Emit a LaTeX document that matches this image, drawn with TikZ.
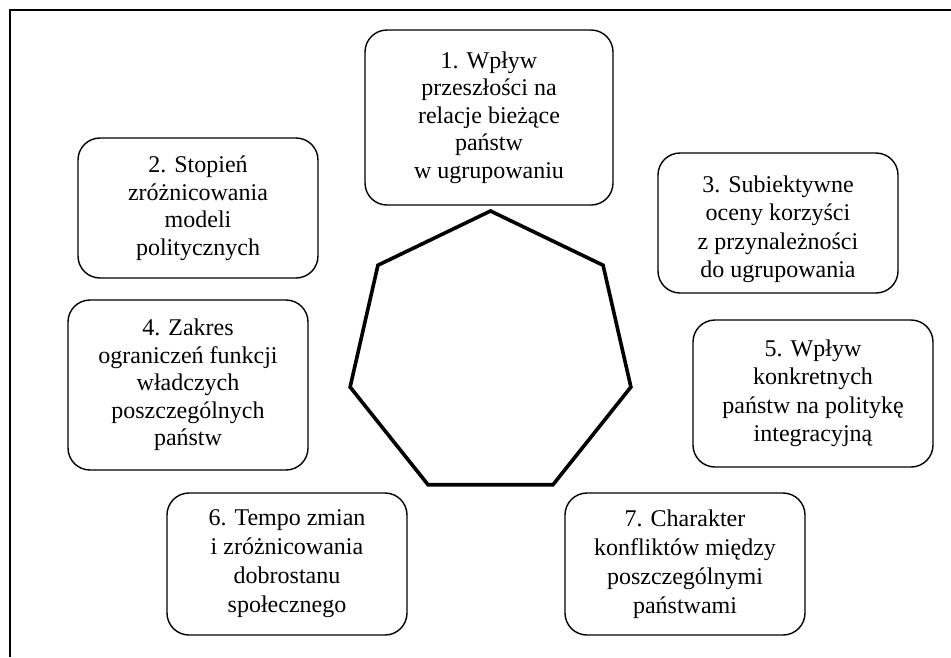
\documentclass[tikz,border=0pt]{standalone}
\usepackage{fontspec}
\setmainfont{Liberation Serif}
\usetikzlibrary{shapes.geometric}

\tikzset{
  factor/.style={draw, line width=1.4pt, rounded corners=22pt, align=center,
    minimum width=240pt, minimum height=140pt, inner sep=4pt,
    font=\fontsize{24}{27.5}\selectfont},
  loose/.style={font=\fontsize{24}{#1}\selectfont},
  hepta/.style={draw, line width=3.6pt, regular polygon, regular polygon sides=7,
    minimum size=288pt, inner sep=0pt}
}

\begin{document}
\begin{tikzpicture}[x=1pt,y=-1pt]
  \useasboundingbox (0,0) rectangle (951,657);
  % ramka (widoczna tylko u gory i z lewej)
  \draw[line width=2pt] (10,657) -- (10,10) -- (951,10);

  \node[hepta] (center) at (490.5,355) {};

  \node[factor, minimum width=248pt, minimum height=175pt] (f1) at (489,117.5)
    {1. Wpływ\\przeszłości na\\relacje bieżące\\państw\\w ugrupowaniu};
  \node[factor] (f2) at (198,208)
    {2. Stopień\\zróżnicowania\\modeli\\politycznych};
  \node[factor, loose=28.5] (f3) at (778,223)
    {\rule{0pt}{29pt}3. Subiektywne\\oceny korzyści\\z przynależności\\do ugrupowania};
  \node[factor, minimum height=170pt] (f4) at (188,385)
    {4. Zakres\\ograniczeń funkcji\\władczych\\poszczególnych\\państw};
  \node[factor, loose=28.5, minimum height=147pt] (f5) at (813,393.5)
    {5. Wpływ\\konkretnych\\państw na politykę\\integracyjną};
  \node[factor, loose=29, minimum height=142pt] (f6) at (287,564)
    {6. Tempo zmian\\i zróżnicowania\\dobrostanu\\społecznego};
  \node[factor, loose=29, minimum height=142pt] (f7) at (685,564)
    {7. Charakter\\konfliktów między\\poszczególnymi\\państwami};
\end{tikzpicture}
\end{document}
